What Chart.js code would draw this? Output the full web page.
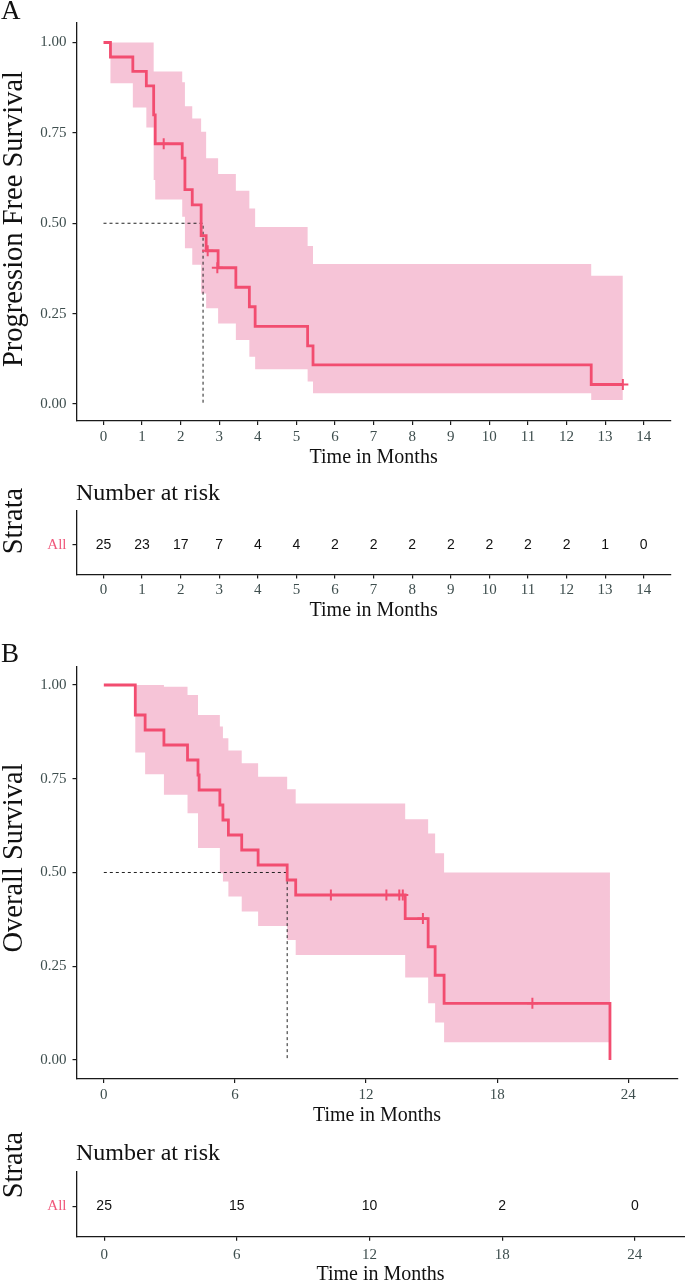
<!DOCTYPE html>
<html>
<head>
<meta charset="utf-8">
<script src="https://cdn.jsdelivr.net/npm/chart.js@4.4.1/dist/chart.umd.min.js"></script>
<style>
  html, body { margin: 0; padding: 0; background: #fff; overflow: hidden; }
  body { width: 685px; height: 1280px; position: relative; font-family: "Liberation Serif", serif; color: #111; }
  .box { position: absolute; left: 0; }
  .lbl { position: absolute; line-height: 1; white-space: nowrap; }
  .rot { transform: translate(-50%, -50%) rotate(-90deg); }
</style>
</head>
<body>
<div class="box" style="top:0"><canvas id="pfsChart" width="685" height="470"></canvas></div>
<div class="box" style="top:470px"><canvas id="pfsRisk" width="685" height="160"></canvas></div>
<div class="lbl" style="left:1px; top:-3px; font-size:27px;">A</div>
<div class="lbl rot" style="left:13px; top:219px; font-size:28.5px;">Progression Free Survival</div>
<div class="lbl" style="left:76px; top:480px; font-size:24px;">Number at risk</div>
<div class="lbl rot" style="left:13px; top:521px; font-size:28.5px;">Strata</div>

<div class="box" style="top:630px"><canvas id="osChart" width="685" height="500"></canvas></div>
<div class="box" style="top:1130px"><canvas id="osRisk" width="685" height="170"></canvas></div>
<div class="lbl" style="left:1px; top:640px; font-size:27px;">B</div>
<div class="lbl rot" style="left:13px; top:858px; font-size:28.5px;">Overall Survival</div>
<div class="lbl" style="left:76px; top:1140px; font-size:24px;">Number at risk</div>
<div class="lbl rot" style="left:13px; top:1165px; font-size:28.5px;">Strata</div>

<script>
// Progression free survival (panel A)
const pfsTime  = [0, 0.18, 0.76, 1.11, 1.30, 1.34, 2.04, 2.11, 2.30, 2.53, 2.66, 2.97, 3.43, 3.78, 3.93, 5.29, 5.43, 12.64, 13.46];
const pfsSurv  = [1.00, 0.96, 0.92, 0.88, 0.80, 0.72, 0.68, 0.593, 0.551, 0.466, 0.424, 0.377, 0.323, 0.269, 0.215, 0.161, 0.108, 0.054, 0.054];
const pfsUpper = [1.00, 1.00, 1.00, 1.00, 0.92, 0.92, 0.89, 0.824, 0.79, 0.753, 0.68, 0.636, 0.59, 0.541, 0.49, 0.437, 0.387, 0.355, 0.355];
const pfsLower = [1.00, 0.887, 0.82, 0.765, 0.62, 0.566, 0.518, 0.431, 0.385, 0.306, 0.265, 0.223, 0.177, 0.131, 0.096, 0.062, 0.030, 0.011, 0.011];
const pfsCensorTime = [1.56, 2.70, 2.95, 13.46];
const pfsCensorSurv = [0.72, 0.424, 0.377, 0.054];
const pfsMedian = 2.58;
const pfsTicks = [0, 1, 2, 3, 4, 5, 6, 7, 8, 9, 10, 11, 12, 13, 14];
const pfsRisk  = [25, 23, 17, 7, 4, 4, 2, 2, 2, 2, 2, 2, 2, 1, 0];

// Overall survival (panel B)
const osTime  = [0, 1.44, 1.89, 2.75, 3.83, 4.31, 4.36, 5.31, 5.45, 5.70, 6.31, 7.06, 8.39, 8.78, 13.79, 14.84, 15.16, 15.57, 23.16];
const osSurv  = [1.00, 0.92, 0.88, 0.84, 0.80, 0.76, 0.72, 0.68, 0.64, 0.60, 0.56, 0.52, 0.48, 0.44, 0.377, 0.302, 0.226, 0.151, 0.0];
const osUpper = [1.00, 1.00, 1.00, 0.995, 0.973, 0.92, 0.92, 0.889, 0.858, 0.825, 0.791, 0.755, 0.722, 0.684, 0.642, 0.604, 0.551, 0.50, 0.50];
const osLower = [1.00, 0.82, 0.762, 0.707, 0.658, 0.565, 0.565, 0.498, 0.476, 0.436, 0.396, 0.357, 0.32, 0.28, 0.22, 0.151, 0.10, 0.047, 0.047];
const osCensorTime = [10.39, 12.93, 13.52, 13.68, 14.60, 19.61];
const osCensorSurv = [0.44, 0.44, 0.44, 0.44, 0.377, 0.151];
const osMedian = 8.39;
const osTicks = [0, 6, 12, 18, 24];
const osRisk  = [25, 15, 10, 2, 0];

const survTicks = [0, 0.25, 0.5, 0.75, 1];
const strata = ["All"];

const SERIF = "'Liberation Serif', 'Times New Roman', serif";
const SANS = "'Liberation Sans', Arial, sans-serif";
const lineColor = "#F24D70";
const bandColor = "#F6C4D7";
const tickColor = "#3E4E4E";
const axisColor = "#1a1a1a";

const pts = (xs, ys) => xs.map((x, i) => ({ x: x, y: ys[i] }));

function xAxis(cfg) {
  return {
    type: "linear",
    min: cfg.xMin,
    max: cfg.xMax,
    afterBuildTicks: (s) => { s.ticks = cfg.xTicks.map((v) => ({ value: v })); },
    afterFit: (s) => { s.height = cfg.bottomH; },
    ticks: {
      color: tickColor,
      font: { family: SERIF, size: 15 },
      padding: cfg.xTickPad,
      maxRotation: 0,
      autoSkip: false,
      callback: (v) => String(v),
    },
    grid: { drawOnChartArea: false, tickLength: 4, color: axisColor, lineWidth: 1.2 },
    border: { color: axisColor, width: 1.3 },
    title: {
      display: true,
      text: "Time in Months",
      color: "#111",
      font: { family: SERIF, size: 20 },
      padding: { top: 0, bottom: cfg.xTitlePad },
    },
  };
}

function survChart(id, cfg) {
  return new Chart(document.getElementById(id), {
    type: "scatter",
    data: {
      datasets: [
        {
          data: pts(cfg.time, cfg.upper),
          showLine: true, stepped: true, borderWidth: 0, pointRadius: 0,
          backgroundColor: bandColor, fill: "+1", order: 3,
        },
        {
          data: pts(cfg.time, cfg.lower),
          showLine: true, stepped: true, borderWidth: 0, pointRadius: 0,
          fill: false, order: 3,
        },
        {
          data: [{ x: 0, y: 0.5 }, { x: cfg.median, y: 0.5 }, { x: cfg.median, y: 0 }],
          showLine: true, borderColor: "#222", borderWidth: 1, borderDash: [3, 3],
          pointRadius: 0, fill: false, order: 2,
        },
        {
          data: pts(cfg.time, cfg.surv),
          showLine: true, stepped: true, borderColor: lineColor, borderWidth: 2.8,
          pointRadius: 0, fill: false, order: 1,
        },
        {
          data: pts(cfg.censorTime, cfg.censorSurv),
          showLine: false, pointStyle: "cross", pointRadius: 5.5,
          borderColor: lineColor, borderWidth: 2, order: 0,
        },
      ],
    },
    options: {
      responsive: false,
      animation: false,
      events: [],
      layout: { padding: { top: cfg.top, right: cfg.right, left: 0, bottom: 0 } },
      plugins: { legend: { display: false }, tooltip: { enabled: false } },
      scales: {
        x: xAxis(cfg),
        y: {
          min: cfg.yMin,
          max: cfg.yMax,
          afterBuildTicks: (s) => { s.ticks = survTicks.map((v) => ({ value: v })); },
          afterFit: (s) => { s.width = 76.5; },
          ticks: {
            color: tickColor,
            font: { family: SERIF, size: 15 },
            padding: 6,
            callback: (v) => Number(v).toFixed(2),
          },
          grid: { drawOnChartArea: false, tickLength: 4, color: axisColor, lineWidth: 1.2 },
          border: { color: axisColor, width: 1.3 },
        },
      },
    },
  });
}

// numbers at risk written at each tick position
const riskLabels = {
  id: "riskLabels",
  afterDatasetsDraw(chart) {
    const ds = chart.data.datasets[0];
    const meta = chart.getDatasetMeta(0);
    const ctx = chart.ctx;
    ctx.save();
    ctx.font = "14px " + SANS;
    ctx.fillStyle = "#111";
    ctx.textAlign = "center";
    ctx.textBaseline = "middle";
    meta.data.forEach((pt, i) => ctx.fillText(String(ds.counts[i]), pt.x, pt.y));
    ctx.restore();
  },
};

function riskChart(id, cfg) {
  return new Chart(document.getElementById(id), {
    type: "scatter",
    data: {
      datasets: [
        {
          data: cfg.xTicks.map((t) => ({ x: t, y: 0 })),
          counts: cfg.counts,
          pointRadius: 0,
          showLine: false,
        },
      ],
    },
    options: {
      responsive: false,
      animation: false,
      events: [],
      layout: { padding: { top: cfg.top, right: cfg.right, left: 0, bottom: 0 } },
      plugins: { legend: { display: false }, tooltip: { enabled: false } },
      scales: {
        x: xAxis(cfg),
        y: {
          min: -0.93,
          max: 1.07,
          afterBuildTicks: (s) => { s.ticks = strata.map((v, i) => ({ value: i })); },
          afterFit: (s) => { s.width = 76.5; },
          ticks: {
            color: "#F0577A",
            font: { family: SERIF, size: 15 },
            padding: 6,
            callback: (v) => strata[v],
          },
          grid: { drawOnChartArea: false, tickLength: 4, color: axisColor, lineWidth: 1.2 },
          border: { color: axisColor, width: 1.3 },
        },
      },
    },
    plugins: [riskLabels],
  });
}

survChart("pfsChart", {
  time: pfsTime, surv: pfsSurv, upper: pfsUpper, lower: pfsLower,
  censorTime: pfsCensorTime, censorSurv: pfsCensorSurv, median: pfsMedian,
  xMin: -0.7, xMax: 14.7, xTicks: pfsTicks,
  yMin: -0.047, yMax: 1.054,
  top: 23, right: 14.3, bottomH: 49, xTickPad: 3, xTitlePad: 0,
});

riskChart("pfsRisk", {
  counts: pfsRisk, xMin: -0.7, xMax: 14.7, xTicks: pfsTicks,
  top: 40.5, right: 14.3, bottomH: 55.5, xTickPad: 3, xTitlePad: 7,
});

survChart("osChart", {
  time: osTime, surv: osSurv, upper: osUpper, lower: osLower,
  censorTime: osCensorTime, censorSurv: osCensorSurv, median: osMedian,
  xMin: -1.25, xMax: 26.25, xTicks: osTicks,
  yMin: -0.0507, yMax: 1.0488,
  top: 36.7, right: 0.4, bottomH: 51, xTickPad: 3, xTitlePad: 2,
});

riskChart("osRisk", {
  counts: osRisk, xMin: -1.25, xMax: 26.25, xTicks: osTicks,
  top: 41.7, right: 0.4, bottomH: 63.3, xTickPad: 5, xTitlePad: 13,
});
</script>
</body>
</html>
